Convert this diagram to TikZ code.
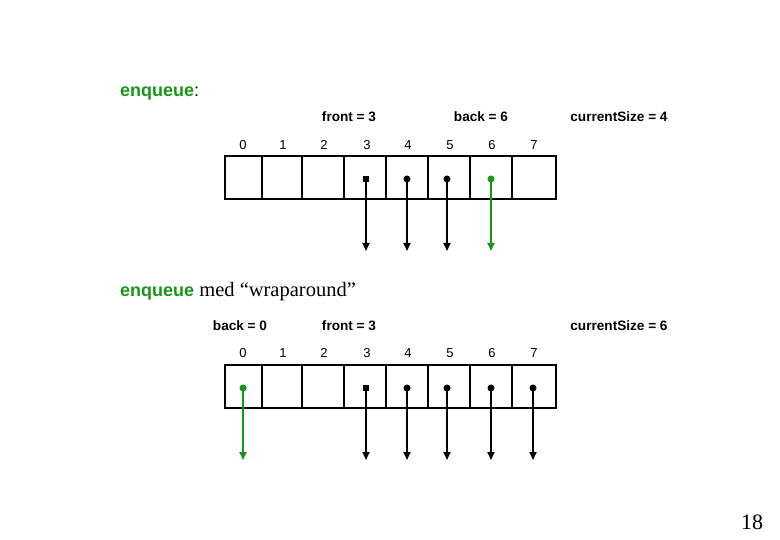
\documentclass[tikz,border=0pt]{standalone}
\usepackage{fontspec}
\setmainfont{Liberation Serif}
\setsansfont{Liberation Sans}
\usetikzlibrary{arrows.meta,positioning}
\definecolor{qgreen}{RGB}{24,150,24}
\tikzset{%
  cell/.style = {%
    rectangle,
    draw=black,
    line width=2.2pt,
    minimum height=43pt,
    inner sep=0pt},
  idx/.style = {font=\sffamily\fontsize{13}{13}\selectfont, inner sep=0pt},
  lbl/.style = {font=\sffamily\bfseries\fontsize{13.6}{13.6}\selectfont, inner sep=0pt},
  ptr/.style = {line width=1.8pt, -{Triangle[width=7pt,length=8pt]}}}

\begin{document}
\begin{tikzpicture}[x=1pt,y=-1pt,
dot/.style={circle, fill=black, minimum size=7pt, inner sep=0pt},
sqdot/.style={rectangle, fill=black, minimum size=6pt, inner sep=0pt},
]

\useasboundingbox (0,0) rectangle (780,540);

% first array
\node[anchor=west, inner sep=0pt, font=\sffamily\fontsize{18}{18}\selectfont] (title1) at (120,94) {\textcolor{qgreen}{\bfseries enqueue}:};

\node[lbl]      (front1)     at (349,117)     {front = 3};
\node[lbl]      (back1)      at (481,117)     {back = 6};
\node[lbl]      (size1)      at (619,117)     {currentSize = 4};

\node[idx]      (i1_0)       at (243,145)     {0};
\node[idx]      (i1_1)       at (283,145)     {1};
\node[idx]      (i1_2)       at (324,145)     {2};
\node[idx]      (i1_3)       at (367,145)     {3};
\node[idx]      (i1_4)       at (408,145)     {4};
\node[idx]      (i1_5)       at (450,145)     {5};
\node[idx]      (i1_6)       at (492,145)     {6};
\node[idx]      (i1_7)       at (534,145)     {7};

\node[cell, minimum width=37pt]   (a0)   at (243.5,177.5)   {};
\node[cell, minimum width=40pt]   (a1)   at (282,177.5)     {};
\node[cell, minimum width=42pt]   (a2)   at (323,177.5)     {};
\node[cell, minimum width=42pt]   (a3)   at (365,177.5)     {};
\node[cell, minimum width=42pt]   (a4)   at (407,177.5)     {};
\node[cell, minimum width=42pt]   (a5)   at (449,177.5)     {};
\node[cell, minimum width=42pt]   (a6)   at (491,177.5)     {};
\node[cell, minimum width=44pt]   (a7)   at (534,177.5)     {};

\node[sqdot]                (p3)   at (366,179)   {};
\node[dot]                  (p4)   at (407,179)   {};
\node[dot]                  (p5)   at (447,179)   {};
\node[dot, fill=qgreen]     (p6)   at (491,179)   {};

\coordinate (q3) at (366,251);
\coordinate (q4) at (407,251);
\coordinate (q5) at (447,251);
\coordinate (q6) at (491,251);

\draw[ptr] (p3.center) -- (q3);
\draw[ptr] (p4.center) -- (q4);
\draw[ptr] (p5.center) -- (q5);
\draw[ptr, draw=qgreen, fill=qgreen] (p6.center) -- (q6);

% second array, wraparound
\node[anchor=west, inner sep=0pt, font=\fontsize{20.5}{20.5}\selectfont] (title2) at (120,292) {\textcolor{qgreen}{\sffamily\bfseries\fontsize{18}{18}\selectfont enqueue} med ``wraparound''};

\node[lbl]      (back2)      at (240,326)     {back = 0};
\node[lbl]      (front2)     at (349,326)     {front = 3};
\node[lbl]      (size2)      at (619,326)     {currentSize = 6};

\node[idx]      (i2_0)       at (243,353)     {0};
\node[idx]      (i2_1)       at (283,353)     {1};
\node[idx]      (i2_2)       at (324,353)     {2};
\node[idx]      (i2_3)       at (367,353)     {3};
\node[idx]      (i2_4)       at (408,353)     {4};
\node[idx]      (i2_5)       at (450,353)     {5};
\node[idx]      (i2_6)       at (492,353)     {6};
\node[idx]      (i2_7)       at (534,353)     {7};

\node[cell, minimum width=37pt]   (b0)   at (243.5,386.5)   {};
\node[cell, minimum width=40pt]   (b1)   at (282,386.5)     {};
\node[cell, minimum width=42pt]   (b2)   at (323,386.5)     {};
\node[cell, minimum width=42pt]   (b3)   at (365,386.5)     {};
\node[cell, minimum width=42pt]   (b4)   at (407,386.5)     {};
\node[cell, minimum width=42pt]   (b5)   at (449,386.5)     {};
\node[cell, minimum width=42pt]   (b6)   at (491,386.5)     {};
\node[cell, minimum width=44pt]   (b7)   at (534,386.5)     {};

\node[dot, fill=qgreen]     (r0)   at (243,388)   {};
\node[sqdot]                (r3)   at (366,388)   {};
\node[dot]                  (r4)   at (407,388)   {};
\node[dot]                  (r5)   at (447,388)   {};
\node[dot]                  (r6)   at (491,388)   {};
\node[dot]                  (r7)   at (533,388)   {};

\coordinate (s0) at (243,460);
\coordinate (s3) at (366,460);
\coordinate (s4) at (407,460);
\coordinate (s5) at (447,460);
\coordinate (s6) at (491,460);
\coordinate (s7) at (533,460);

\draw[ptr, draw=qgreen, fill=qgreen] (r0.center) -- (s0);
\draw[ptr] (r3.center) -- (s3);
\draw[ptr] (r4.center) -- (s4);
\draw[ptr] (r5.center) -- (s5);
\draw[ptr] (r6.center) -- (s6);
\draw[ptr] (r7.center) -- (s7);

\node[inner sep=0pt, font=\fontsize{22}{22}\selectfont] (pagenr) at (752,522) {18};

\end{tikzpicture}
\end{document}
